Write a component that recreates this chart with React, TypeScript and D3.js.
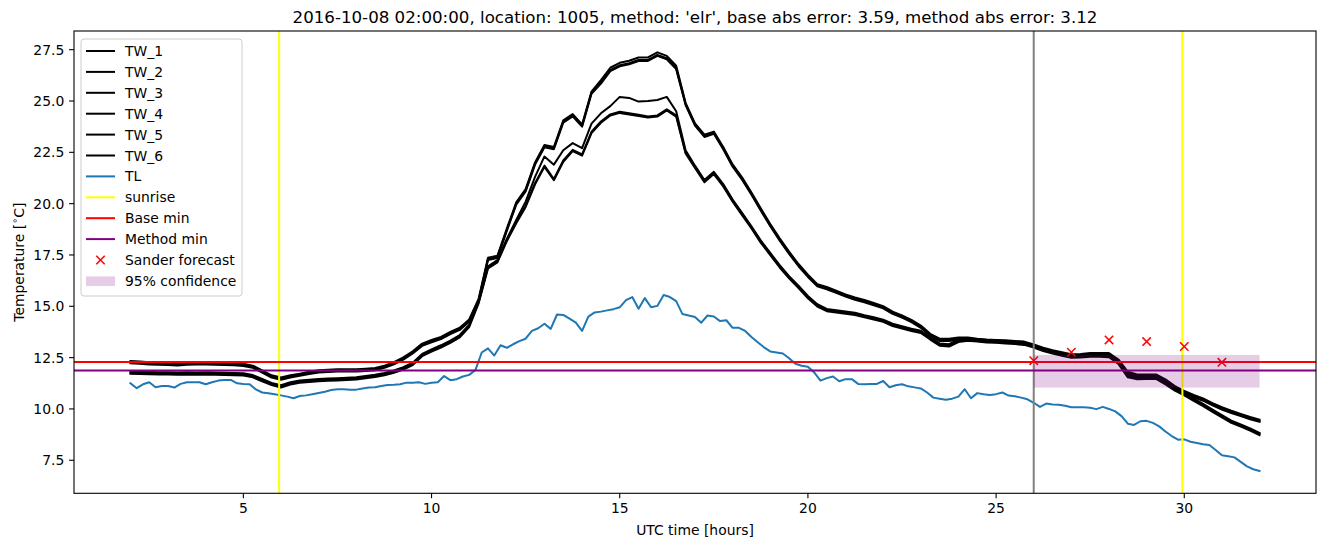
import React from 'react';
import * as d3 from 'd3';

// ---------- data ----------
const TITLE = "2016-10-08 02:00:00, location: 1005, method: 'elr', base abs error: 3.59, method abs error: 3.12";

// TW series sampled every 0.25 h from t=2 to t=32
const TW_START = 2;
const TW_END = 32;

const TW_1 = [
  12.33,12.31,12.28,12.26,12.25,12.23,12.26,12.27,12.28,12.26,
  12.25,12.24,12.2,12.11,11.88,11.64,11.53,11.64,11.72,11.81,
  11.88,11.91,11.93,11.93,11.93,11.96,11.99,12.11,12.28,12.51,
  12.81,13.18,13.36,13.51,13.75,13.96,14.36,15.36,17.36,17.46,
  18.78,20.06,20.71,22.01,22.86,22.76,24.06,24.36,23.86,25.46,
  26.02,26.62,26.86,26.96,27.12,27.12,27.37,27.2,26.72,24.91,
  23.91,23.36,23.51,22.76,21.91,21.28,20.54,19.76,19.01,18.31,
  17.66,17.06,16.54,16.08,15.94,15.76,15.58,15.43,15.31,15.16,
  15.01,14.74,14.56,14.34,14.06,13.66,13.42,13.42,13.48,13.48,
  13.42,13.38,13.36,13.34,13.31,13.28,13.14,12.98,12.86,12.76,
  12.66,12.68,12.72,12.72,12.72,12.41,11.81,11.68,11.68,11.68,
  11.44,11.11,10.88,10.68,10.51,10.28,10.08,9.91,9.76,9.61,9.48
];
const TW_2 = [
  12.27,12.25,12.22,12.2,12.19,12.17,12.2,12.21,12.22,12.2,
  12.19,12.18,12.14,12.05,11.82,11.58,11.47,11.58,11.66,11.75,
  11.82,11.85,11.87,11.87,11.87,11.9,11.93,12.05,12.22,12.45,
  12.75,13.12,13.3,13.45,13.69,13.9,14.3,15.3,17.3,17.4,
  18.72,20.0,20.65,21.95,22.8,22.7,24.0,24.3,23.8,25.4,
  25.9,26.5,26.74,26.84,27.0,27.0,27.25,27.08,26.6,24.85,
  23.85,23.3,23.45,22.7,21.85,21.22,20.48,19.7,18.95,18.25,
  17.6,17.0,16.48,16.02,15.88,15.7,15.52,15.37,15.25,15.1,
  14.95,14.68,14.5,14.28,14.0,13.6,13.36,13.36,13.42,13.42,
  13.36,13.32,13.3,13.28,13.25,13.22,13.08,12.92,12.8,12.7,
  12.6,12.62,12.66,12.66,12.66,12.35,11.75,11.62,11.62,11.62,
  11.38,11.05,10.82,10.62,10.45,10.22,10.02,9.85,9.7,9.55,9.42
];
const TW_3 = [
  12.22,12.2,12.17,12.15,12.14,12.12,12.15,12.16,12.17,12.15,
  12.14,12.13,12.09,12.0,11.77,11.53,11.42,11.53,11.61,11.7,
  11.77,11.8,11.82,11.82,11.82,11.85,11.88,12.0,12.17,12.4,
  12.7,13.07,13.25,13.4,13.64,13.85,14.25,15.25,17.25,17.35,
  18.67,19.95,20.6,21.9,22.75,22.65,23.95,24.25,23.75,25.35,
  25.85,26.45,26.69,26.79,26.95,26.95,27.2,27.03,26.55,24.8,
  23.8,23.25,23.4,22.65,21.8,21.17,20.43,19.65,18.9,18.2,
  17.55,16.95,16.43,15.97,15.83,15.65,15.47,15.32,15.2,15.05,
  14.9,14.63,14.45,14.23,13.95,13.55,13.31,13.31,13.37,13.37,
  13.31,13.27,13.25,13.23,13.2,13.17,13.03,12.87,12.75,12.65,
  12.55,12.57,12.61,12.61,12.61,12.3,11.7,11.57,11.57,11.57,
  11.33,11.0,10.77,10.57,10.4,10.17,9.97,9.8,9.65,9.5,9.37
];
const TW_4 = [
  11.82,11.81,11.8,11.79,11.79,11.77,11.79,11.78,11.79,11.77,
  11.76,11.75,11.74,11.65,11.46,11.27,11.15,11.3,11.38,11.42,
  11.46,11.48,11.5,11.52,11.54,11.6,11.66,11.75,11.87,12.03,
  12.25,12.68,12.9,13.1,13.33,13.6,14.1,15.25,16.95,17.25,
  18.28,19.2,20.1,21.3,22.3,21.9,22.6,22.95,22.7,23.9,
  24.4,24.75,25.2,25.15,24.97,25.0,25.05,25.2,24.5,22.6,
  21.85,21.15,21.55,20.95,20.2,19.55,18.9,18.2,17.6,17.0,
  16.47,16.0,15.5,15.1,14.87,14.81,14.75,14.69,14.57,14.47,
  14.35,14.15,14.03,13.91,13.81,13.49,13.19,13.15,13.37,13.43,
  13.39,13.35,13.33,13.3,13.27,13.23,13.1,12.93,12.81,12.7,
  12.6,12.61,12.65,12.65,12.63,12.3,11.65,11.55,11.57,11.57,
  11.3,11.0,10.77,10.5,10.25,9.97,9.7,9.43,9.25,9.05,8.83
];
const TW_5 = [
  11.77,11.76,11.75,11.74,11.74,11.72,11.74,11.73,11.74,11.72,
  11.71,11.7,11.69,11.6,11.41,11.22,11.1,11.25,11.33,11.37,
  11.41,11.43,11.45,11.47,11.49,11.55,11.61,11.7,11.82,11.98,
  12.2,12.63,12.85,13.05,13.28,13.55,14.05,15.2,16.9,17.2,
  18.23,19.1,19.9,21.0,21.85,21.2,22.1,22.62,22.4,23.5,
  24.0,24.35,24.48,24.4,24.33,24.25,24.3,24.6,24.3,22.5,
  21.8,21.1,21.5,20.9,20.15,19.5,18.85,18.15,17.55,16.95,
  16.42,15.95,15.45,15.05,14.82,14.76,14.7,14.64,14.52,14.42,
  14.3,14.1,13.98,13.86,13.76,13.44,13.14,13.1,13.32,13.38,
  13.34,13.3,13.28,13.25,13.22,13.18,13.05,12.88,12.76,12.65,
  12.55,12.56,12.6,12.6,12.58,12.25,11.6,11.5,11.52,11.52,
  11.25,10.95,10.72,10.45,10.2,9.92,9.65,9.38,9.2,9.0,8.78
];
const TW_6 = [
  11.71,11.7,11.69,11.68,11.68,11.66,11.68,11.67,11.68,11.66,
  11.65,11.64,11.63,11.54,11.35,11.16,11.04,11.19,11.27,11.31,
  11.35,11.37,11.39,11.41,11.43,11.49,11.55,11.64,11.76,11.92,
  12.14,12.57,12.79,12.99,13.22,13.49,13.99,15.14,16.84,17.14,
  18.17,19.04,19.84,20.94,21.79,21.14,22.04,22.56,22.34,23.44,
  23.94,24.29,24.42,24.34,24.27,24.19,24.24,24.54,24.24,22.44,
  21.74,21.04,21.44,20.84,20.09,19.44,18.79,18.09,17.49,16.89,
  16.36,15.89,15.39,14.99,14.76,14.7,14.64,14.58,14.46,14.36,
  14.24,14.04,13.92,13.8,13.7,13.38,13.08,13.04,13.26,13.32,
  13.28,13.24,13.22,13.19,13.16,13.12,12.99,12.82,12.7,12.59,
  12.49,12.5,12.54,12.54,12.52,12.19,11.54,11.44,11.46,11.46,
  11.19,10.89,10.66,10.39,10.14,9.86,9.59,9.32,9.14,8.94,8.72
];

// TL sampled every 10 minutes from t=2 to t=32
const TL = [
  11.25,11.01,11.2,11.3,11.06,11.12,11.12,11.04,11.22,11.3,
  11.3,11.3,11.2,11.3,11.38,11.41,11.41,11.25,11.22,11.2,
  10.95,10.8,10.76,10.72,10.66,10.6,10.52,10.63,10.66,10.72,
  10.78,10.84,10.92,10.96,10.96,10.94,10.94,11.0,11.04,11.06,
  11.12,11.17,11.18,11.2,11.28,11.28,11.3,11.22,11.28,11.3,
  11.6,11.4,11.45,11.58,11.66,11.9,12.75,12.95,12.6,13.1,
  12.98,13.15,13.3,13.42,13.8,13.93,14.15,13.9,14.6,14.58,
  14.4,14.2,13.8,14.5,14.7,14.74,14.8,14.86,14.95,15.3,
  15.45,14.88,15.4,14.95,15.02,15.55,15.45,15.25,14.62,14.55,
  14.48,14.2,14.55,14.5,14.28,14.32,13.95,13.95,13.8,13.5,
  13.25,13.0,12.8,12.75,12.7,12.47,12.2,12.1,12.06,11.78,
  11.38,11.5,11.58,11.35,11.45,11.45,11.22,11.2,11.22,11.22,
  11.36,11.06,11.15,11.2,11.1,11.05,11.0,10.8,10.55,10.5,
  10.45,10.5,10.6,10.96,10.52,10.77,10.72,10.68,10.72,10.8,
  10.65,10.62,10.55,10.47,10.3,10.1,10.26,10.22,10.2,10.15,
  10.08,10.08,10.08,10.06,9.99,10.1,10.0,9.88,9.65,9.28,
  9.22,9.4,9.42,9.32,9.15,8.9,8.68,8.5,8.52,8.4,
  8.34,8.28,8.24,8.0,7.74,7.7,7.64,7.42,7.2,7.06,
  6.98
];

const SUNRISE = [5.95, 29.95];
const FORECAST_START = [26];
const BASE_MIN = 12.29;
const METHOD_MIN = 11.87;
const SANDER_T = [26, 27, 28, 29, 30, 31];
const SANDER_V = [12.35, 12.76, 13.36, 13.28, 13.04, 12.27];
const CONF_T = [26, 32];
const CONF_LOW = 11.04;
const CONF_HIGH = 12.63;

const X_TICKS = [5, 10, 15, 20, 25, 30];
const Y_TICKS = [7.5, 10.0, 12.5, 15.0, 17.5, 20.0, 22.5, 25.0, 27.5];

const TW_SERIES = [
  { name: 'TW_1', values: TW_1 },
  { name: 'TW_2', values: TW_2 },
  { name: 'TW_3', values: TW_3 },
  { name: 'TW_4', values: TW_4 },
  { name: 'TW_5', values: TW_5 },
  { name: 'TW_6', values: TW_6 },
];

// ---------- layout ----------
const W = 1324;
const H = 547;
const L = 74, R = 1316, T = 31, B = 493.3;
const FONT = 'DejaVu Sans, sans-serif';
const FS = 13.9;
const LW = 2.0;

const BLUE = '#1f77b4';

export default function App() {
  const x = d3.scaleLinear().domain([0.5, 33.5]).range([L, R]);
  const y = d3.scaleLinear().domain([5.89, 28.41]).range([B, T]);

  const mkLine = d3.line<[number, number]>().x(d => x(d[0])).y(d => y(d[1]));
  const series = (vals: number[]) =>
    vals.map((v, i) => [TW_START + (i * (TW_END - TW_START)) / (vals.length - 1), v] as [number, number]);

  const legendItems = [
    ...TW_SERIES.map(s => ({ label: s.name, kind: 'line', color: '#000' })),
    { label: 'TL', kind: 'line', color: BLUE },
    { label: 'sunrise', kind: 'line', color: 'yellow' },
    { label: 'Base min', kind: 'line', color: 'red' },
    { label: 'Method min', kind: 'line', color: 'purple' },
    { label: 'Sander forecast', kind: 'x', color: 'red' },
    { label: '95% confidence', kind: 'patch', color: 'purple' },
  ];

  const lx0 = 81, ly0 = 39, lw = 161, lh = 257;
  const rowY = (i: number) => 51 + i * 20.9;

  return (
    <svg width={W} height={H} style={{ position: 'absolute', left: 0, top: 0, background: '#fff' }}
      fontFamily={FONT}>
      <rect x={0} y={0} width={W} height={H} fill="#fff" />
      <defs>
        <clipPath id="plotclip">
          <rect x={L} y={T} width={R - L} height={B - T} />
        </clipPath>
      </defs>

      <g clipPath="url(#plotclip)">
        {TW_SERIES.map(s => (
          <path key={s.name} d={mkLine(series(s.values)) || ''} fill="none" stroke="#000"
            strokeWidth={LW} strokeLinejoin="round" strokeLinecap="square" />
        ))}
        <path d={mkLine(series(TL)) || ''} fill="none" stroke={BLUE} strokeWidth={LW}
          strokeLinejoin="round" strokeLinecap="square" />
        {SUNRISE.map((s, i) => (
          <line key={'sr' + i} x1={x(s)} x2={x(s)} y1={T} y2={B} stroke="yellow" strokeWidth={LW} />
        ))}
        {FORECAST_START.map((s, i) => (
          <line key={'fs' + i} x1={x(s)} x2={x(s)} y1={T} y2={B} stroke="gray" strokeWidth={LW} />
        ))}
        <line x1={L} x2={R} y1={y(BASE_MIN)} y2={y(BASE_MIN)} stroke="red" strokeWidth={LW} />
        <line x1={L} x2={R} y1={y(METHOD_MIN)} y2={y(METHOD_MIN)} stroke="purple" strokeWidth={LW} />
        {SANDER_T.map((t, i) => {
          const cx = x(t), cy = y(SANDER_V[i]);
          const r = 4.2;
          return (
            <g key={'sx' + i} stroke="red" strokeWidth={1.5}>
              <line x1={cx - r} y1={cy - r} x2={cx + r} y2={cy + r} />
              <line x1={cx - r} y1={cy + r} x2={cx + r} y2={cy - r} />
            </g>
          );
        })}
        <rect x={x(CONF_T[0])} width={x(CONF_T[1]) - x(CONF_T[0])} y={y(CONF_HIGH)}
          height={y(CONF_LOW) - y(CONF_HIGH)} fill="purple" fillOpacity={0.2} />
      </g>

      {/* axes frame */}
      <rect x={L} y={T} width={R - L} height={B - T} fill="none" stroke="#000" strokeWidth={1.1} />

      {/* x ticks */}
      {X_TICKS.map(t => (
        <g key={'xt' + t}>
          <line x1={x(t)} x2={x(t)} y1={B} y2={B + 4.9} stroke="#000" strokeWidth={1.1} />
          <text x={x(t)} y={B + 19.5} fontSize={FS} textAnchor="middle" fill="#000">{t}</text>
        </g>
      ))}
      {/* y ticks */}
      {Y_TICKS.map(v => (
        <g key={'yt' + v}>
          <line x1={L - 4.9} x2={L} y1={y(v)} y2={y(v)} stroke="#000" strokeWidth={1.1} />
          <text x={L - 9.7} y={y(v)} dy="0.36em" fontSize={FS} textAnchor="end" fill="#000">{v.toFixed(1)}</text>
        </g>
      ))}

      {/* axis labels */}
      <text x={(L + R) / 2} y={535} fontSize={FS} textAnchor="middle" fill="#000">UTC time [hours]</text>
      <text transform={`translate(23.5, ${(T + B) / 2}) rotate(-90)`} fontSize={FS} textAnchor="middle" fill="#000">
        Temperature [<tspan fontSize={9.7} dy={-5.5}>∘</tspan><tspan dy={5.5}>C]</tspan>
      </text>

      {/* title */}
      <text x={(L + R) / 2} y={23} fontSize={16.67} textAnchor="middle" fill="#000">{TITLE}</text>

      {/* legend */}
      <rect x={lx0} y={ly0} width={lw} height={lh} rx={3} ry={3} fill="#fff" fillOpacity={0.8}
        stroke="#cccccc" strokeWidth={1} />
      {legendItems.map((it, i) => {
        const cy = rowY(i);
        let handle: React.ReactNode = null;
        if (it.kind === 'line') {
          handle = <line x1={86} x2={115} y1={cy} y2={cy} stroke={it.color} strokeWidth={LW} />;
        } else if (it.kind === 'x') {
          const cx = 100.5, r = 4.2;
          handle = (
            <g stroke={it.color} strokeWidth={1.5}>
              <line x1={cx - r} y1={cy - r} x2={cx + r} y2={cy + r} />
              <line x1={cx - r} y1={cy + r} x2={cx + r} y2={cy - r} />
            </g>
          );
        } else {
          handle = <rect x={86} y={cy - 4.5} width={29} height={9.5} fill={it.color} fillOpacity={0.2} />;
        }
        return (
          <g key={'lg' + i}>
            {handle}
            <text x={125} y={cy} dy="0.36em" fontSize={FS} fill="#000">{it.label}</text>
          </g>
        );
      })}
    </svg>
  );
}
